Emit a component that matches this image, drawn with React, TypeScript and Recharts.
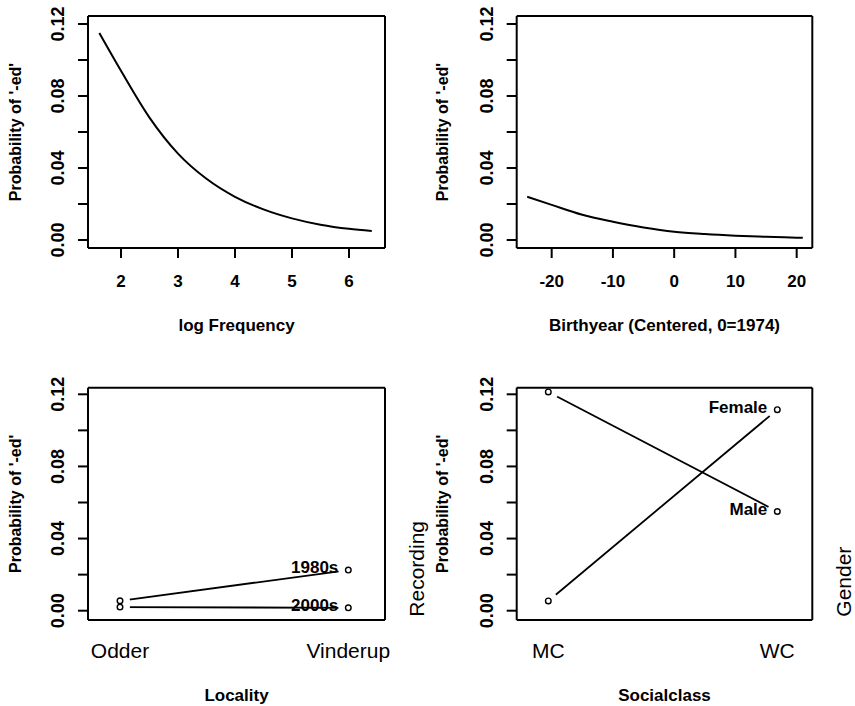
import React from 'react';
import { LineChart, Line, XAxis, YAxis, Label } from 'recharts';

const FONT = '"Liberation Sans", Arial, Helvetica, sans-serif';

// ---- data ----
const logFreq = [1.62, 2.0, 2.5, 3.0, 3.5, 4.0, 4.5, 5.0, 5.5, 6.0, 6.4];
const logFreqProb = [0.115, 0.094, 0.068, 0.048, 0.034, 0.024, 0.017, 0.012, 0.0085, 0.0062, 0.005];
const birthyear = [-24, -20, -15, -10, -5, 0, 5, 10, 15, 20, 21];
const birthyearProb = [0.024, 0.0195, 0.014, 0.0102, 0.007, 0.0046, 0.0033, 0.0024, 0.0018, 0.0013, 0.0012];
const localities = ['Odder', 'Vinderup'];
const recordings = ['1980s', '2000s'];
const prob1980s = [0.0055, 0.0225];
const prob2000s = [0.002, 0.0016];
const socialclasses = ['MC', 'WC'];
const genders = ['Female', 'Male'];
const probFemale = [0.0054, 0.1115];
const probMale = [0.1213, 0.055];
const yTicks = [0, 0.02, 0.04, 0.06, 0.08, 0.1, 0.12];
const logFreqTicks = [2, 3, 4, 5, 6];
const birthyearTicks = [-20, -10, 0, 10, 20];
const yTitle = "Probability of '-ed'";

const freqData = logFreq.map((x, i) => ({ x, p: logFreqProb[i] }));
const birthData = birthyear.map((x, i) => ({ x, p: birthyearProb[i] }));
const localityData = localities.map((c, i) => ({ c, [recordings[0]]: prob1980s[i], [recordings[1]]: prob2000s[i] }));
const classData = socialclasses.map((c, i) => ({ c, [genders[0]]: probFemale[i], [genders[1]]: probMale[i] }));

// ---- styles ----
const boxLine = { stroke: '#000', strokeWidth: 2 };
const tickLineStyle = { stroke: '#000', strokeWidth: 2 };
const xTickStyle = { fill: '#000', fontSize: 17, fontWeight: 'bold', fontFamily: FONT };
const catTickStyle = { fill: '#000', fontSize: 21, fontFamily: FONT };

const YTick = (props: any) => {
  const { x, y, payload } = props;
  const v = payload.value;
  if (Math.round(v * 100) % 4 !== 0) return <g />;
  return (
    <text
      transform={`translate(${x - 12},${y}) rotate(-90)`}
      textAnchor="middle"
      fontFamily={FONT}
      fontSize={18}
      fontWeight="bold"
      fill="#000"
    >
      {v.toFixed(2)}
    </text>
  );
};

const xTitle = (text: string, dy: number) => (p: any) => {
  const vb = p.viewBox;
  return (
    <text x={vb.x + vb.width / 2} y={vb.y + dy} textAnchor="middle" fontFamily={FONT} fontSize={17} fontWeight="bold" fill="#000">
      {text}
    </text>
  );
};

const yTitleContent = (dx: number) => (p: any) => {
  const vb = p.viewBox;
  return (
    <text
      transform={`translate(${vb.x + dx},${vb.y + vb.height / 2}) rotate(-90)`}
      textAnchor="middle"
      fontFamily={FONT}
      fontSize={16}
      fontWeight="bold"
      fill="#000"
    >
      {yTitle}
    </text>
  );
};

const keyTitle = (text: string, dx: number) => (p: any) => {
  const vb = p.viewBox;
  return (
    <text
      transform={`translate(${vb.x + dx},${vb.y + vb.height - 3.3}) rotate(-90)`}
      textAnchor="start"
      fontFamily={FONT}
      fontSize={21}
      fill="#000"
    >
      {text}
    </text>
  );
};

// white gap around each point (like R's type="b"), kept inside the plot frame
const haloDot = (panelId: string, plotTop: number) => (p: any) => {
  const id = `clip-${panelId}-${String(p.dataKey)}-${p.index}`;
  return (
    <g key={`halo-${p.dataKey}-${p.index}`}>
      <defs>
        <clipPath id={id}>
          <rect x={-1000} y={plotTop + 1.2} width={5000} height={5000} />
        </clipPath>
      </defs>
      <circle cx={p.cx} cy={p.cy} r={10} fill="#fff" clipPath={`url(#${id})`} />
    </g>
  );
};

const PointDot = (p: any) => (
  <circle key={`pt-${p.dataKey}-${p.index}`} cx={p.cx} cy={p.cy} r={2.8} fill="none" stroke="#000" strokeWidth={1.4} />
);

const endLabel = (name: string, last: number) => (p: any) =>
  p.index === last ? (
    <text key={`lab-${name}`} x={p.x - 10} y={p.y + 3} textAnchor="end" fontFamily={FONT} fontSize={17} fontWeight="bold" fill="#000">
      {name}
    </text>
  ) : (
    <g key={`lab-${name}-${p.index}`} />
  );

const TOP_DOMAIN: [number, number] = [-0.00444, 0.12444];
const BOT_DOMAIN: [number, number] = [-0.00516, 0.12366];

function TopPanel(props: {
  data: any[];
  domain: [number, number];
  ticks: number[];
  title: string;
  margin: any;
  width: number;
  titleDx: number;
}) {
  return (
    <LineChart width={props.width} height={340} data={props.data} margin={props.margin}>
      <Line dataKey="p" type="monotone" stroke="#000" strokeWidth={2} dot={false} isAnimationActive={false} />
      <Line xAxisId="top" yAxisId="right" dataKey="p" type="monotone" stroke="none" dot={false} isAnimationActive={false} />
      <XAxis
        dataKey="x"
        type="number"
        domain={props.domain}
        ticks={props.ticks}
        interval={0}
        tickSize={10}
        tickMargin={17}
        axisLine={boxLine}
        tickLine={tickLineStyle}
        tick={xTickStyle}
        height={30}
        allowDataOverflow
      >
        <Label content={xTitle(props.title, 82.5)} />
      </XAxis>
      <XAxis xAxisId="top" orientation="top" dataKey="x" type="number" domain={props.domain} height={1} tick={false} tickLine={false} axisLine={boxLine} allowDataOverflow />
      <YAxis
        type="number"
        domain={TOP_DOMAIN}
        ticks={yTicks}
        interval={0}
        tickSize={10}
        tick={YTick}
        width={60}
        axisLine={boxLine}
        tickLine={tickLineStyle}
        allowDataOverflow
      >
        <Label content={yTitleContent(props.titleDx)} />
      </YAxis>
      <YAxis yAxisId="right" orientation="right" type="number" domain={TOP_DOMAIN} width={1} tick={false} tickLine={false} axisLine={boxLine} allowDataOverflow />
    </LineChart>
  );
}

function BottomPanel(props: {
  id: string;
  data: any[];
  series: string[];
  title: string;
  keyName: string;
  margin: any;
  width: number;
  padding: { left: number; right: number };
  titleDx: number;
  keyDx: number;
}) {
  const last = props.data.length - 1;
  const plotTop = props.margin.top + 1;
  return (
    <LineChart width={props.width} height={366} data={props.data} margin={props.margin}>
      {props.series.map((s) => (
        <Line
          key={`line-${s}`}
          dataKey={s}
          type="linear"
          stroke="#000"
          strokeWidth={1.8}
          dot={haloDot(props.id, plotTop)}
          isAnimationActive={false}
        />
      ))}
      {props.series.map((s) => (
        <Line
          key={`pts-${s}`}
          xAxisId="top"
          yAxisId="right"
          dataKey={s}
          type="linear"
          stroke="none"
          dot={PointDot}
          label={endLabel(s, last)}
          isAnimationActive={false}
        />
      ))}
      <XAxis
        dataKey="c"
        type="category"
        padding={props.padding}
        interval={0}
        tickSize={0}
        tickMargin={23}
        axisLine={boxLine}
        tickLine={false}
        tick={catTickStyle}
        height={30}
      >
        <Label content={xTitle(props.title, 81)} />
      </XAxis>
      <XAxis xAxisId="top" orientation="top" dataKey="c" type="category" padding={props.padding} height={1} tick={false} tickLine={false} axisLine={boxLine} />
      <YAxis
        type="number"
        domain={BOT_DOMAIN}
        ticks={yTicks}
        interval={0}
        tickSize={10}
        tick={YTick}
        width={60}
        axisLine={boxLine}
        tickLine={tickLineStyle}
        allowDataOverflow
      >
        <Label content={yTitleContent(props.titleDx)} />
      </YAxis>
      <YAxis yAxisId="right" orientation="right" type="number" domain={BOT_DOMAIN} width={1} tick={false} tickLine={false} axisLine={boxLine} allowDataOverflow>
        <Label content={keyTitle(props.keyName, props.keyDx)} />
      </YAxis>
    </LineChart>
  );
}

export default function App() {
  return (
    <div style={{ position: 'fixed', left: 0, top: 0, width: 855, height: 706, background: '#fff' }}>
      <div style={{ position: 'absolute', left: 0, top: 0 }}>
        <TopPanel
          data={freqData}
          domain={[1.421, 6.632]}
          ticks={logFreqTicks}
          title="log Frequency"
          width={430}
          margin={{ top: 15, right: 44, bottom: 62, left: 28 }}
          titleDx={-7}
        />
      </div>
      <div style={{ position: 'absolute', left: 430, top: 0 }}>
        <TopPanel
          data={birthData}
          domain={[-25.71, 22.55]}
          ticks={birthyearTicks}
          title="Birthyear (Centered, 0=1974)"
          width={425}
          margin={{ top: 15, right: 41.7, bottom: 62, left: 26.7 }}
          titleDx={-9}
        />
      </div>
      <div style={{ position: 'absolute', left: 0, top: 340 }}>
        <BottomPanel
          id="loc"
          data={localityData}
          series={recordings}
          title="Locality"
          keyName="Recording"
          width={430}
          margin={{ top: 46.7, right: 44, bottom: 56, left: 28 }}
          padding={{ left: 32, right: 36.7 }}
          titleDx={-7}
          keyDx={39}
        />
      </div>
      <div style={{ position: 'absolute', left: 430, top: 340 }}>
        <BottomPanel
          id="cls"
          data={classData}
          series={[genders[1], genders[0]]}
          title="Socialclass"
          keyName="Gender"
          width={425}
          margin={{ top: 46.7, right: 41.7, bottom: 56, left: 26.7 }}
          padding={{ left: 31.6, right: 35 }}
          titleDx={-9}
          keyDx={38.5}
        />
      </div>
    </div>
  );
}
